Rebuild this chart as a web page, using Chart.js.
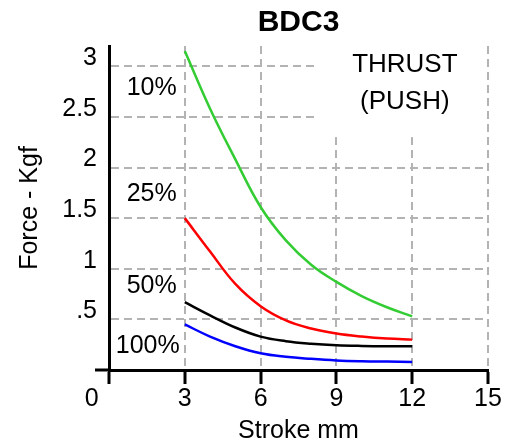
<!DOCTYPE html>
<html>
<head>
<meta charset="utf-8">
<script src="https://cdn.jsdelivr.net/npm/chart.js@4/dist/chart.umd.min.js"></script>
<style>
  html, body { margin: 0; padding: 0; background: #fff; }
  #wrap { width: 513px; height: 446px; }
</style>
</head>
<body>
<div id="wrap"><canvas id="c" width="513" height="446"></canvas></div>
<script>
// ---- data ----
const strokeMm = [3, 4, 5, 6, 7, 8, 9, 10, 11, 12];
const force10  = [3.15, 2.58, 2.08, 1.61, 1.28, 1.04, 0.87, 0.73, 0.62, 0.53];
const force25  = [1.50, 1.17, 0.85, 0.63, 0.49, 0.41, 0.36, 0.33, 0.31, 0.30];
const force50  = [0.67, 0.54, 0.42, 0.33, 0.285, 0.26, 0.245, 0.238, 0.235, 0.235];
const force100 = [0.45, 0.33, 0.235, 0.165, 0.13, 0.11, 0.095, 0.087, 0.083, 0.08];
const seriesLabels = ['10%', '25%', '50%', '100%'];
const xTickValues = [0, 3, 6, 9, 12, 15];
const yTickValues = [0.5, 1, 1.5, 2, 2.5, 3];
const yTickLabels = ['.5', '1', '1.5', '2', '2.5', '3'];
const chartTitle = 'BDC3';
const xTitle = 'Stroke mm';
const yTitle = 'Force - Kgf';
const noteLines = ['THRUST', '(PUSH)'];

// ---- rendering ----
const FAM = '"Liberation Sans", Arial, Helvetica, sans-serif';
const GRID = '#b3b3b3';
const toPts = arr => strokeMm.map((x, i) => ({ x: x, y: arr[i] }));

const seriesColors = ['#33cc33', '#ff0000', '#000000', '#0000ff'];
const seriesData = [force10, force25, force50, force100];

const annot = {
  id: 'annot',
  beforeDatasetsDraw(chart) {
    const { ctx, scales: { x, y } } = chart;
    ctx.save();
    ctx.fillStyle = '#ffffff';
    const x0 = x.getPixelForValue(8.3), x1 = x.getPixelForValue(14.85);
    const y0 = y.getPixelForValue(3.2) - 2, y1 = y.getPixelForValue(2.3);
    ctx.fillRect(x0, y0, x1 - x0, y1 - y0);
    ctx.restore();
  },
  afterDatasetsDraw(chart) {
    const { ctx, scales: { x, y } } = chart;
    ctx.save();
    ctx.fillStyle = '#000';
    ctx.textBaseline = 'middle';
    ctx.font = '25px ' + FAM;
    ctx.textAlign = 'right';
    const labelY = [2.78, 1.74, 0.83, 0.235];
    const labelX = [2.68, 2.68, 2.68, 2.8];
    seriesLabels.forEach((t, i) => {
      ctx.fillText(t, x.getPixelForValue(labelX[i]), y.getPixelForValue(labelY[i]));
    });
    ctx.textAlign = 'center';
    ctx.font = '26px ' + FAM;
    ctx.fillText(noteLines[0], x.getPixelForValue(11.71), y.getPixelForValue(3.01));
    ctx.fillText(noteLines[1], x.getPixelForValue(11.71), y.getPixelForValue(2.65));
    ctx.restore();
  }
};

new Chart(document.getElementById('c'), {
  type: 'line',
  data: {
    datasets: seriesData.map((arr, i) => ({
      label: seriesLabels[i],
      data: toPts(arr),
      borderColor: seriesColors[i],
      backgroundColor: seriesColors[i],
      borderWidth: 2.5,
      pointRadius: 0,
      fill: false,
      tension: 0.4
    }))
  },
  options: {
    responsive: false,
    animation: false,
    layout: { padding: { left: 0, right: 25, top: 0, bottom: 0 } },
    plugins: {
      legend: { display: false },
      tooltip: { enabled: false },
      title: {
        display: true, text: chartTitle, fullSize: false, color: '#000',
        font: { size: 30, weight: 'bold', family: FAM, lineHeight: 1 },
        padding: { top: 8, bottom: 8 }
      }
    },
    scales: {
      x: {
        type: 'linear', min: 0, max: 15,
        afterBuildTicks: s => { s.ticks = xTickValues.map(v => ({ value: v })); },
        afterFit: s => { s.height = 76; },
        ticks: { autoSkip: false, maxRotation: 0, padding: 0, color: '#000',
                 font: { size: 25, family: FAM },
                 callback: v => (v === 0 ? '0     ' : String(v)) },
        grid: {
          color: c => (c.tick && c.tick.value === 0) ? 'rgba(0,0,0,0)' : GRID,
          lineWidth: 2, tickLength: 14, tickColor: '#000', tickWidth: 3, tickBorderDash: []
        },
        border: { display: true, color: '#000', width: 3, dash: [8, 5] },
        title: { display: true, text: xTitle, color: '#000',
                 font: { size: 25, family: FAM }, padding: { top: 0, bottom: 0 } }
      },
      y: {
        type: 'linear', min: 0, max: 3.2,
        afterBuildTicks: s => { s.ticks = [0].concat(yTickValues).map(v => ({ value: v })); },
        afterFit: s => { s.width = 109; },
        ticks: { autoSkip: false, padding: -2, labelOffset: -8, color: '#000',
                 font: { size: 25, family: FAM },
                 callback: v => { const i = yTickValues.indexOf(v); return i >= 0 ? yTickLabels[i] : ''; } },
        grid: {
          color: c => (c.tick && c.tick.value === 0) ? 'rgba(0,0,0,0)' : GRID,
          lineWidth: 2, tickLength: 14,
          tickColor: c => (c.tick && c.tick.value === 0) ? '#000' : 'rgba(0,0,0,0)',
          tickWidth: 3, tickBorderDash: []
        },
        border: { display: true, color: '#000', width: 3, dash: [8, 5] },
        title: { display: true, text: yTitle, color: '#000',
                 font: { size: 25, family: FAM }, padding: { top: 15, bottom: 0 } }
      }
    }
  },
  plugins: [annot]
});
</script>
</body>
</html>
